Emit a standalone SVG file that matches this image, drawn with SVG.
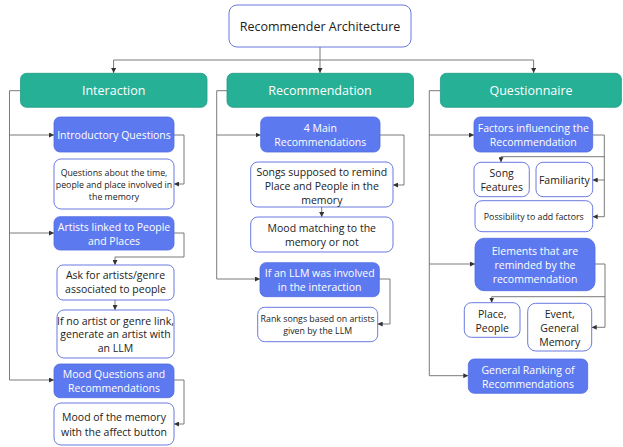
<svg xmlns="http://www.w3.org/2000/svg" width="623" height="447" viewBox="0 0 623 447">
<defs>
<style>
.hdr{fill:#26b096;stroke:#1f9c85;stroke-width:0.8}
.blu{fill:#5d79ef;stroke:#4f6ae0;stroke-width:0.8}
.wht{fill:#ffffff;stroke:#6a7ae0;stroke-width:1}
.top{fill:#ffffff;stroke:#6a7ae0;stroke-width:1}
text{font-family:"Open Sans","Liberation Sans",sans-serif;text-anchor:middle;dominant-baseline:central}
.th{fill:#ffffff;font-size:12.5px}
.tb{fill:#ffffff;font-size:10.5px}
.tw{fill:#222222;font-size:10.5px}
.ts{fill:#222222;font-size:8.8px}
.tt{fill:#222222;font-size:12.5px}
.c{fill:none;stroke:#6b6b6b;stroke-width:0.9}
</style>
<marker id="a" viewBox="0 0 6 6" refX="6" refY="3" markerWidth="5" markerHeight="5" markerUnits="userSpaceOnUse" orient="auto"><path d="M0,0 L6,3 L0,6 z" fill="#333"/></marker>
</defs>
<g id="connectors">
<path class="c" d="M320,47 V60 M113.6,60 H533.6"/>
<path class="c" d="M113.6,60 V73" marker-end="url(#a)"/>
<path class="c" d="M320,60 V73" marker-end="url(#a)"/>
<path class="c" d="M533.6,60 V73" marker-end="url(#a)"/>
<path class="c" d="M20,90.7 H9.5 V380 H54" marker-end="url(#a)"/>
<path class="c" d="M9.5,135 H54" marker-end="url(#a)"/>
<path class="c" d="M9.5,233 H54" marker-end="url(#a)"/>
<path class="c" d="M174,135 H184 V184 H174" marker-end="url(#a)"/>
<path class="c" d="M174,233 H184 V257 H115 V265" marker-end="url(#a)"/>
<path class="c" d="M115,300 V310" marker-end="url(#a)"/>
<path class="c" d="M174,380 H184 V424 H174" marker-end="url(#a)"/>
<path class="c" d="M227,90.7 H216.7 V279 H260" marker-end="url(#a)"/>
<path class="c" d="M216.7,135 H260.7" marker-end="url(#a)"/>
<path class="c" d="M380,135 H404 V185 H393" marker-end="url(#a)"/>
<path class="c" d="M321.7,207 V217" marker-end="url(#a)"/>
<path class="c" d="M379.3,279 H390 V324 H377.7" marker-end="url(#a)"/>
<path class="c" d="M440,90.7 H429.3 V375.7 H468.3" marker-end="url(#a)"/>
<path class="c" d="M429.3,135 H474" marker-end="url(#a)"/>
<path class="c" d="M429.3,264 H475" marker-end="url(#a)"/>
<path class="c" d="M592.7,135 H604.3 V216.7 H592.7" marker-end="url(#a)"/>
<path class="c" d="M604.3,156.7 H501 V162.3" marker-end="url(#a)"/>
<path class="c" d="M604.3,180 H592.7" marker-end="url(#a)"/>
<path class="c" d="M595,264 H605 V327.3 H591.7" marker-end="url(#a)"/>
<path class="c" d="M605,296.7 H491.7 V302.7" marker-end="url(#a)"/>
</g>
<g id="root"><rect class="top" x="229" y="5" width="182" height="42" rx="8"/><text class="tt" x="320" y="26.7">Recommender Architecture</text></g>
<g id="interaction"><rect class="hdr" x="20.5" y="73.3" width="186.5" height="34" rx="6"/><text class="th" x="113.7" y="90.7">Interaction</text></g>
<g id="recommendation"><rect class="hdr" x="227" y="73.3" width="186.5" height="34" rx="6"/><text class="th" x="320" y="90.7">Recommendation</text></g>
<g id="questionnaire"><rect class="hdr" x="440.4" y="73.3" width="181" height="34" rx="6"/><text class="th" x="531" y="90.7">Questionnaire</text></g>
<g id="intro"><rect class="blu" x="54" y="117" width="120" height="35" rx="6"/><text class="tb" x="114" y="134.5">Introductory Questions</text></g>
<g id="questions"><rect class="wht" x="54" y="159" width="120" height="50" rx="7"/><text class="ts" x="114" y="172.7">Questions about the time,</text><text class="ts" x="114" y="184.7">people and place involved in</text><text class="ts" x="114" y="196.7">the memory</text></g>
<g id="artists"><rect class="blu" x="54" y="216.7" width="120" height="33.3" rx="6"/><text class="tb" x="114" y="226.7">Artists linked to People</text><text class="tb" x="114" y="240.7">and Places</text></g>
<g id="ask"><rect class="wht" x="57" y="265" width="117" height="35" rx="6"/><text class="tw" x="115.5" y="275">Ask for artists/genre</text><text class="tw" x="115.5" y="289">associated to people</text></g>
<g id="noartist"><rect class="wht" x="57" y="310" width="117" height="48" rx="7"/><text class="tw" x="115.5" y="320.7">If no artist or genre link,</text><text class="tw" x="115.5" y="334.3">generate an artist with</text><text class="tw" x="115.5" y="348">an LLM</text></g>
<g id="moodq"><rect class="blu" x="54" y="364" width="120" height="33.7" rx="6"/><text class="tb" x="114" y="374">Mood Questions and</text><text class="tb" x="114" y="388.3">Recommendations</text></g>
<g id="moodmem"><rect class="wht" x="54" y="403" width="120" height="42" rx="7"/><text class="tw" x="114" y="417">Mood of the memory</text><text class="tw" x="114" y="431.7">with the affect button</text></g>
<g id="main4"><rect class="blu" x="260.7" y="117" width="119.3" height="35" rx="6"/><text class="tb" x="320.3" y="128">4 Main</text><text class="tb" x="320.3" y="142">Recommendations</text></g>
<g id="songs"><rect class="wht" x="250.7" y="162" width="142.3" height="45" rx="7"/><text class="tw" x="321.8" y="171.7">Songs supposed to remind</text><text class="tw" x="321.8" y="186">Place and People in the</text><text class="tw" x="321.8" y="200">memory</text></g>
<g id="moodmatch"><rect class="wht" x="250.7" y="217" width="142.3" height="35" rx="7"/><text class="tw" x="321.8" y="228.3">Mood matching to the</text><text class="tw" x="321.8" y="242.3">memory or not</text></g>
<g id="llm"><rect class="blu" x="260" y="262.7" width="119.3" height="34" rx="6"/><text class="tb" x="319.7" y="273.3">If an LLM was involved</text><text class="tb" x="319.7" y="287.3">in the interaction</text></g>
<g id="rank"><rect class="wht" x="257.7" y="307.3" width="120" height="34.4" rx="7"/><text class="ts" x="317.7" y="319.3">Rank songs based on artists</text><text class="ts" x="317.7" y="331">given by the LLM</text></g>
<g id="factors"><rect class="blu" x="474" y="117" width="118.7" height="35" rx="6"/><text class="tb" x="533.3" y="128">Factors influencing the</text><text class="tb" x="533.3" y="142">Recommendation</text></g>
<g id="songfeat"><rect class="wht" x="474" y="162.3" width="55.3" height="34.4" rx="7"/><text class="tw" x="501.7" y="173.3">Song</text><text class="tw" x="501.7" y="187.3">Features</text></g>
<g id="familiarity"><rect class="wht" x="536" y="162.3" width="56.7" height="34.4" rx="7"/><text class="tw" x="564.3" y="180">Familiarity</text></g>
<g id="possibility"><rect class="wht" x="475" y="200.7" width="117.7" height="31" rx="7"/><text class="ts" x="533.8" y="216.7">Possibility to add factors</text></g>
<g id="elements"><rect class="blu" x="475" y="238.3" width="120" height="52.4" rx="9"/><text class="tb" x="535" y="250.7">Elements that are</text><text class="tb" x="535" y="264.7">reminded by the</text><text class="tb" x="535" y="279">recommendation</text></g>
<g id="place"><rect class="wht" x="464.3" y="302.7" width="55.7" height="34.6" rx="7"/><text class="tw" x="492.2" y="314">Place,</text><text class="tw" x="492.2" y="327.7">People</text></g>
<g id="event"><rect class="wht" x="527.7" y="303.3" width="64" height="47.7" rx="8"/><text class="tw" x="559.7" y="314">Event,</text><text class="tw" x="559.7" y="327.7">General</text><text class="tw" x="559.7" y="341.7">Memory</text></g>
<g id="general"><rect class="blu" x="468.3" y="359" width="119.4" height="34.3" rx="6"/><text class="tb" x="528" y="370">General Ranking of</text><text class="tb" x="528" y="384">Recommendations</text></g>
</svg>
